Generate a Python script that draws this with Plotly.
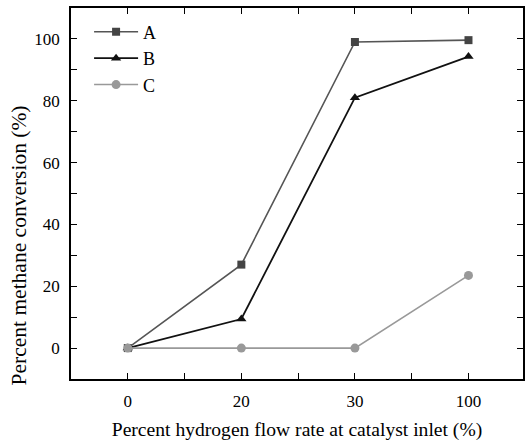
import plotly.graph_objects as go

categories = ["0", "20", "30", "100"]
series_a = [0, 27, 99, 99.6]
series_b = [0, 9.4, 81, 94.3]
series_c = [0, 0, 0, 23.5]
names = ["A", "B", "C"]

xpos = list(range(len(categories)))
font = "Liberation Serif, Times New Roman, serif"

fig = go.Figure()
fig.add_trace(go.Scatter(x=xpos, y=series_a, name=names[0], mode="lines+markers",
                         line=dict(color="#555555", width=1.6),
                         marker=dict(symbol="square", size=8, color="#444444")))
fig.add_trace(go.Scatter(x=xpos, y=series_b, name=names[1], mode="lines+markers",
                         line=dict(color="#111111", width=1.8),
                         marker=dict(symbol="triangle-up", size=9, color="#111111")))
fig.add_trace(go.Scatter(x=xpos, y=series_c, name=names[2], mode="lines+markers",
                         line=dict(color="#999999", width=1.6),
                         marker=dict(symbol="circle", size=9, color="#999999")))

axis_common = dict(showline=True, linecolor="black", linewidth=1.6, mirror="allticks",
                   ticks="inside", ticklen=6, tickwidth=1.4, tickcolor="black",
                   showgrid=False, zeroline=False,
                   tickfont=dict(family=font, size=17, color="black"))

fig.update_xaxes(**axis_common, tickmode="array", tickvals=xpos, ticktext=categories,
                 range=[-0.5, 3.48],
                 minor=dict(tickmode="array", tickvals=[-0.5 + i for i in range(5)] + [0.5, 1.5, 2.5],
                            ticks="inside", ticklen=6, tickwidth=1.4, tickcolor="black"),
                 title=dict(text="Percent hydrogen flow rate at catalyst inlet (%)",
                            font=dict(family=font, size=19.6, color="black"), standoff=12),
                 ticklabelstandoff=6)
fig.update_yaxes(**axis_common, tickmode="array", tickvals=[0, 20, 40, 60, 80, 100],
                 range=[-10, 110],
                 minor=dict(tickmode="array", tickvals=[-10, 10, 30, 50, 70, 90, 110],
                            ticks="inside", ticklen=6, tickwidth=1.4, tickcolor="black"),
                 ticklabelstandoff=6)

fig.add_annotation(text="Percent methane conversion (%)", textangle=-90,
                   xref="paper", yref="paper", x=-0.115, y=0.36,
                   xanchor="center", yanchor="middle", showarrow=False,
                   font=dict(family=font, size=21.5, color="black"))

fig.update_layout(
    width=527, height=444,
    margin=dict(l=71, r=2, t=8, b=65),
    paper_bgcolor="white", plot_bgcolor="white",
    showlegend=True,
    legend=dict(x=0.04, y=0.985, xanchor="left", yanchor="top", bgcolor="rgba(0,0,0,0)",
                font=dict(family=font, size=18, color="black"), itemwidth=44,
                tracegroupgap=0),
)

fig.write_html("out.html")
